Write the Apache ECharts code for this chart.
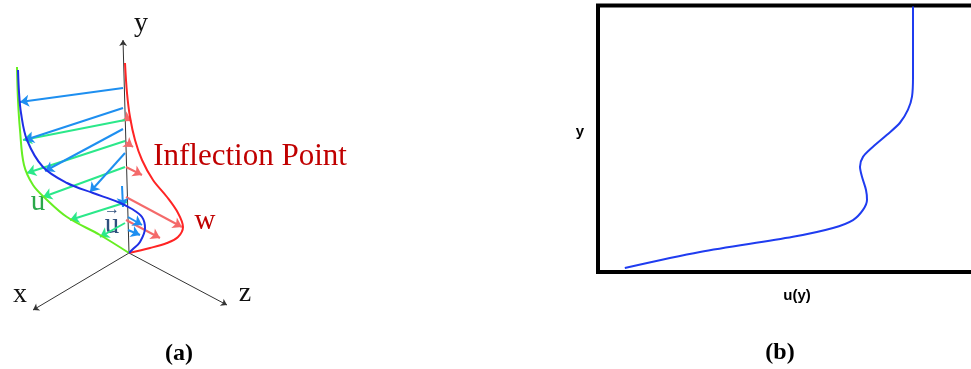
<!DOCTYPE html>
<html>
<head>
<meta charset="utf-8">
<script src="https://cdn.jsdelivr.net/npm/echarts@6/dist/echarts.min.js"></script>
<style>
  html, body { margin: 0; padding: 0; background: #fff; }
  #chart { width: 971px; height: 369px; }
</style>
</head>
<body>
<div id="chart"></div>
<script>
// panel (a): sketch coordinates (x to the right, y downward)
const axisX = [[129, 253], [33, 310]];
const axisY = [[129, 253], [123, 40]];
const axisZ = [[129, 253], [227, 305]];

const wCurve = [[125, 63], [127, 93], [130, 117], [135, 140], [142, 160], [153, 180], [167, 197], [178, 213], [183, 227], [178, 237], [167, 243], [150, 248], [129, 253]];
const uCurve = [[17, 67], [18, 100], [20, 130], [24, 165], [33, 185], [45, 198], [67, 217], [100, 235], [129, 253]];
const uBarCurve = [[18, 70], [19, 92], [21, 113], [27, 140], [43, 167], [67, 183], [93, 193], [118, 202], [132, 209], [142, 217], [145, 228], [140, 242], [133, 249], [129, 253]];

const wArrows = [[[126, 118], [131, 121]], [[126, 142], [133, 147]], [[126, 167], [142, 175]], [[126, 197], [182, 227]], [[126, 220], [160, 238]]];
const uArrows = [[[125, 120], [23, 140]], [[125, 141], [27, 173]], [[125, 167], [43, 197]], [[127, 202], [70, 220]], [[125, 223], [100, 237]]];
const uBarArrows = [[[123, 88], [20, 102]], [[123, 108], [25, 140]], [[123, 129], [45, 171]], [[125, 153], [90, 192]], [[122, 186], [123, 207]], [[128, 217], [142, 225]], [[128, 230], [140, 235]]];

// panel (b): normalised u(y) profile
const profileU = [0.067, 0.255, 0.4875, 0.5875, 0.6375, 0.6625, 0.6725, 0.67, 0.66, 0.655, 0.6625, 0.6875, 0.7225, 0.755, 0.775, 0.785, 0.7875, 0.7875];
const profileY = [0.015, 0.075, 0.132, 0.165, 0.195, 0.233, 0.271, 0.308, 0.357, 0.395, 0.432, 0.470, 0.515, 0.560, 0.609, 0.658, 0.733, 0.996];

const chart = echarts.init(document.getElementById('chart'));

function arrows(list, color, width, size) {
  return {
    type: 'lines',
    coordinateSystem: 'cartesian2d',
    xAxisIndex: 0,
    yAxisIndex: 0,
    symbol: ['none', 'arrow'],
    symbolSize: size,
    silent: true,
    lineStyle: { color: color, width: width, opacity: 1, curveness: 0 },
    data: list.map(c => ({ coords: c }))
  };
}

function curve(pts, color) {
  return {
    type: 'line',
    xAxisIndex: 0,
    yAxisIndex: 0,
    smooth: 0.35,
    symbol: 'none',
    silent: true,
    lineStyle: { color: color, width: 2 },
    data: pts
  };
}

const serif = '"Liberation Serif", "Times New Roman", serif';
const sans = '"Liberation Sans", Arial, sans-serif';

function label(text, x, y, font, color) {
  return {
    type: 'text',
    x: x,
    y: y,
    silent: true,
    style: { text: text, font: font, fill: color, align: 'center', verticalAlign: 'middle' }
  };
}

let option = {
  backgroundColor: '#fff',
  animation: false,
  grid: [
    { left: 0, top: 0, width: 300, height: 369, show: false, outerBoundsMode: 'none' },
    { left: 598, top: 5.5, width: 400, height: 266.5, show: true, borderColor: '#000', borderWidth: 4, backgroundColor: 'transparent', outerBoundsMode: 'none' }
  ],
  xAxis: [
    { type: 'value', gridIndex: 0, min: 0, max: 300, show: false },
    { type: 'value', gridIndex: 1, min: 0, max: 1, show: false }
  ],
  yAxis: [
    { type: 'value', gridIndex: 0, min: 0, max: 369, inverse: true, show: false },
    { type: 'value', gridIndex: 1, min: 0, max: 1, show: false }
  ],
  series: [
    arrows([axisX, axisY, axisZ], '#333', 1, 6),
    arrows(wArrows, '#f46a6a', 2, 9),
    arrows(uArrows, '#2be88a', 2, 9),
    arrows(uBarArrows, '#1e8ff0', 2, 9),
    curve(uCurve, '#66ee22'),
    curve(wCurve, '#ff2424'),
    curve(uBarCurve, '#1f2fe6'),
    {
      type: 'line',
      xAxisIndex: 1,
      yAxisIndex: 1,
      smooth: 0.3,
      symbol: 'none',
      silent: true,
      lineStyle: { color: '#1f3cf0', width: 2 },
      data: profileU.map((u, i) => [u, profileY[i]])
    }
  ],
  graphic: [
    label('y', 141, 24, '28px ' + serif, '#111'),
    label('x', 20, 295, '28px ' + serif, '#111'),
    label('z', 245, 294, '28px ' + serif, '#111'),
    label('Inflection Point', 250, 157, '31px ' + serif, '#c00000'),
    label('w', 205, 221, '29px ' + serif, '#c00000'),
    label('u', 38, 202, '29px ' + serif, '#2aa84a'),
    label('u', 112, 225, '29px ' + serif, '#2e4f7d'),
    label('\u2192', 112, 210, '16px ' + sans, '#2e4f7d'),
    label('(a)', 179, 354, 'bold 24px ' + serif, '#000'),
    label('(b)', 780, 353, 'bold 24px ' + serif, '#000'),
    label('y', 580, 132, 'bold 15px ' + sans, '#000'),
    label('u(y)', 797, 296, 'bold 15px ' + sans, '#000')
  ]
};

chart.setOption(option);
</script>
</body>
</html>
